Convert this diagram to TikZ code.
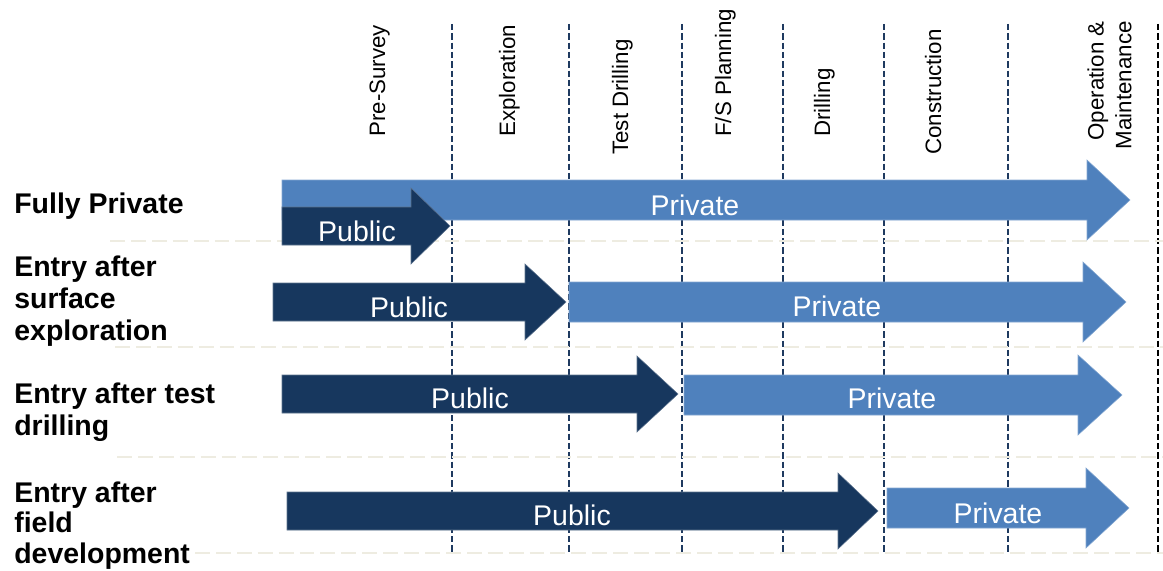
\documentclass[tikz,border=0pt]{standalone}
\usepackage{fontspec}
\setmainfont{Liberation Sans}
\definecolor{publicblue}{HTML}{17375E}
\definecolor{privateblue}{HTML}{4F81BD}
\definecolor{stageline}{HTML}{1F3A60}
\definecolor{rowline}{HTML}{EEECE1}
\newcommand{\phasearrow}[7]{%
  \filldraw[#1] (#2,#5-#6) -- (#3,#5-#6) -- (#3,#5-#7) -- (#4,#5)
    -- (#3,#5+#7) -- (#3,#5+#6) -- (#2,#5+#6) -- cycle;}
\begin{document}
\begin{tikzpicture}[
	x=0.02cm, y=-0.02cm,
	every node/.style={inner sep=0pt},
	rowlabel/.style={font=\fontsize{16.2}{18.2}\selectfont\bfseries, align=left, anchor=base west},
	stagelabel/.style={font=\fontsize{12.7}{15.9}\selectfont, rotate=90, anchor=base west},
	arrowtext/.style={font=\fontsize{16.2}{18}\selectfont, text=white, anchor=base},
	publicarrow/.style={fill=publicblue, draw=publicblue!70!white, line width=0.3pt},
	privatearrow/.style={fill=privateblue, draw=privateblue!70!white, line width=0.3pt},
	stagesep/.style={stageline, line width=1.4pt, dash pattern=on 3.6pt off 1.7pt},
	rowsep/.style={rowline, line width=1.1pt, dash pattern=on 8.5pt off 3.4pt},
]
\useasboundingbox (0,0) rectangle (1163,571);
\draw[stagesep] (452,24) -- (452,552);
\draw[stagesep] (569,24) -- (569,552);
\draw[stagesep] (682,24) -- (682,552);
\draw[stagesep] (783,24) -- (783,552);
\draw[stagesep] (884,24) -- (884,552);
\draw[stagesep] (1008,24) -- (1008,552);
\draw[stagesep, black, line width=1.6pt] (1158,24) -- (1158,552);
\draw[rowsep] (110,241) -- (1163,241);
\draw[rowsep] (115,347) -- (1163,347);
\draw[rowsep] (117,457) -- (1163,457);
\draw[rowsep] (195,553) -- (1163,553);

\node[stagelabel] (presurvey) at (385,137) {Pre-Survey};
\node[stagelabel] (exploration) at (515,137) {Exploration};
\node[stagelabel] (testdrill) at (628,155) {Test Drilling};
\node[stagelabel] (fsplan) at (731,137) {F/S Planning};
\node[stagelabel] (drilling) at (830,137) {Drilling};
\node[stagelabel] (construction) at (941,155) {Construction};
\node[stagelabel, align=right, anchor=north east] (operation) at (1087,21) {Operation \&\\Maintenance};

\phasearrow{privatearrow}{282}{1087}{1130}{200}{20}{40}
\phasearrow{publicarrow}{282}{411}{450}{226}{19}{38}
\phasearrow{publicarrow}{273}{525}{566}{302}{19}{38}
\phasearrow{privatearrow}{569}{1083}{1126}{302}{20}{40}
\phasearrow{publicarrow}{282}{637}{678}{394}{19}{38}
\phasearrow{privatearrow}{684}{1078}{1122}{395}{20}{40}
\phasearrow{publicarrow}{287}{838}{878}{511}{19}{38}
\phasearrow{privatearrow}{887}{1086}{1129}{508}{20}{40}

\node[arrowtext] (privfull) at (695,215) {Private};
\node[arrowtext] (pubfull) at (357,241) {Public};
\node[arrowtext] (pubsurf) at (409,317) {Public};
\node[arrowtext] (privsurf) at (837,316) {Private};
\node[arrowtext] (pubtest) at (470,408) {Public};
\node[arrowtext] (privtest) at (892,408) {Private};
\node[arrowtext] (pubfield) at (572,525) {Public};
\node[arrowtext] (privfield) at (998,523) {Private};

\node[rowlabel] (fully) at (14,213) {Fully Private};
\node[rowlabel] (surface) at (14,340) {Entry after\\surface\\exploration};
\node[rowlabel] (test) at (14,435) {Entry after test\\drilling};
\node[rowlabel, font=\fontsize{16.2}{17.3}\selectfont\bfseries] (field) at (14,563) {Entry after\\field\\development};
\end{tikzpicture}
\end{document}
